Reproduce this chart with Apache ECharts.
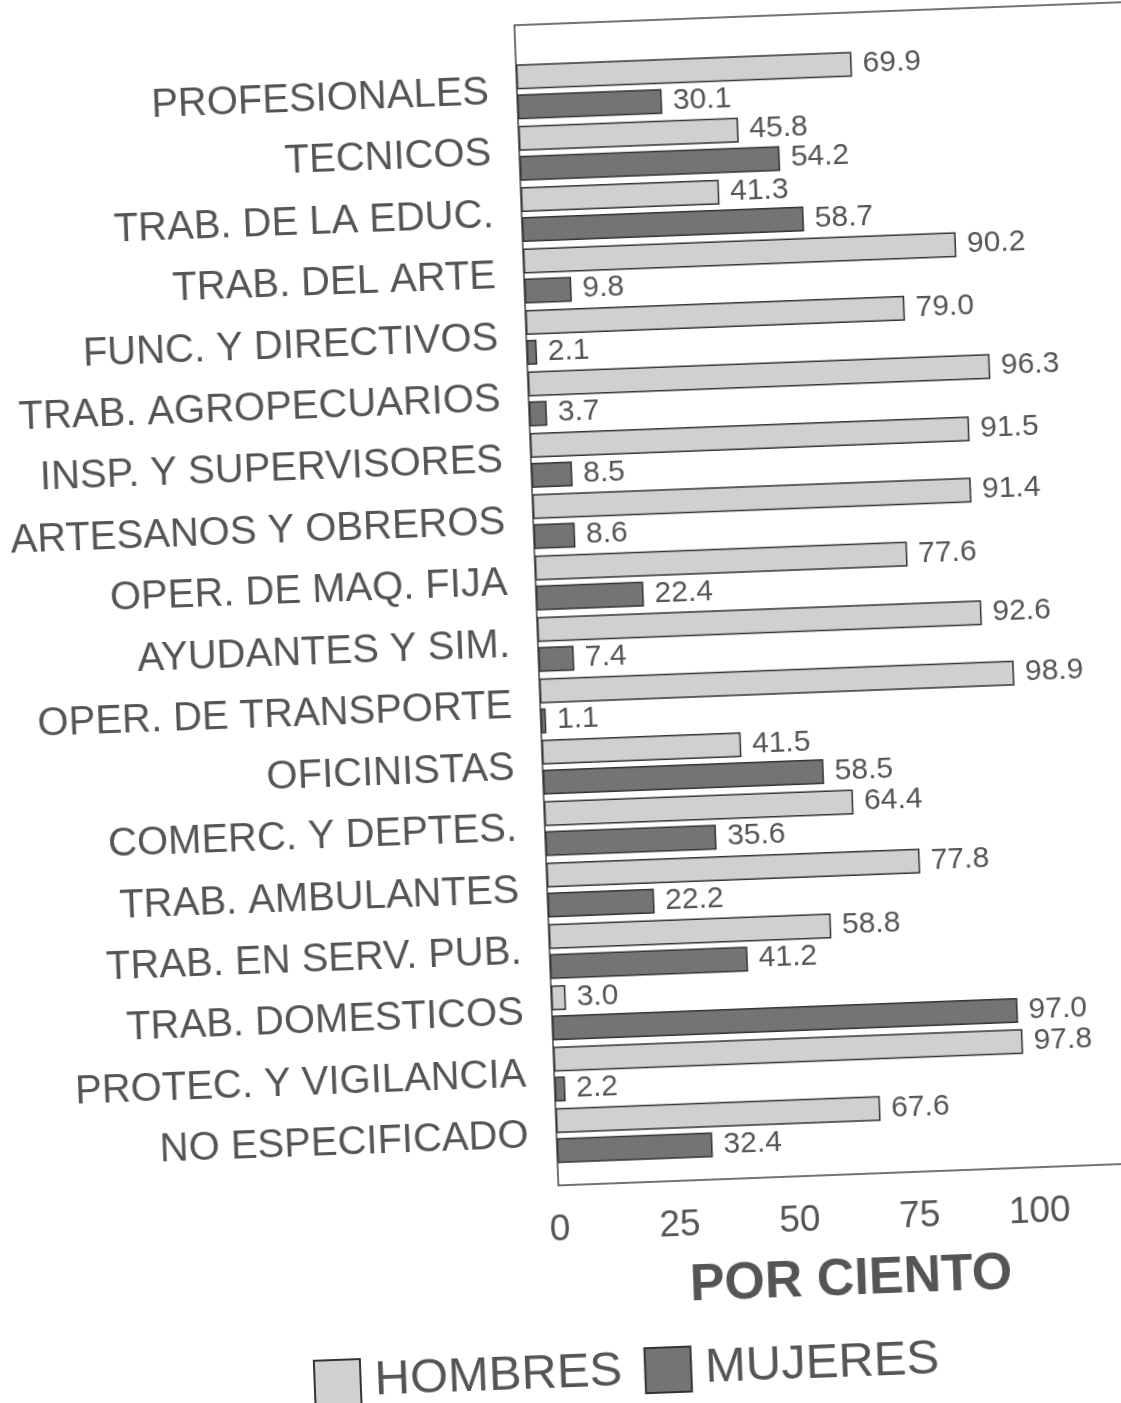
<!DOCTYPE html>
<html>
<head>
<meta charset="utf-8">
<script src="https://cdn.jsdelivr.net/npm/echarts@6/dist/echarts.min.js"></script>
<style>
  html, body { margin: 0; padding: 0; background: #fff; overflow: hidden; width: 1121px; height: 1403px; }
  /* el original es un escaneo ligeramente girado */
  #main { width: 1300px; height: 1403px; transform: rotate(-2.17deg); transform-origin: 560px 700px; }
</style>
</head>
<body>
<div id="main"></div>
<script>
// ocupaciones
var categorias = [
  "PROFESIONALES", "TECNICOS", "TRAB. DE LA EDUC.", "TRAB. DEL ARTE",
  "FUNC. Y DIRECTIVOS", "TRAB. AGROPECUARIOS", "INSP. Y SUPERVISORES",
  "ARTESANOS Y OBREROS", "OPER. DE MAQ. FIJA", "AYUDANTES Y SIM.",
  "OPER. DE TRANSPORTE", "OFICINISTAS", "COMERC. Y DEPTES.",
  "TRAB. AMBULANTES", "TRAB. EN SERV. PUB.", "TRAB. DOMESTICOS",
  "PROTEC. Y VIGILANCIA", "NO ESPECIFICADO"
];
var hombres = [69.9, 45.8, 41.3, 90.2, 79.0, 96.3, 91.5, 91.4, 77.6, 92.6, 98.9, 41.5, 64.4, 77.8, 58.8, 3.0, 97.8, 67.6];
var mujeres = [30.1, 54.2, 58.7, 9.8, 2.1, 3.7, 8.5, 8.6, 22.4, 7.4, 1.1, 58.5, 35.6, 22.2, 41.2, 97.0, 2.2, 32.4];
var ticks = [0, 25, 50, 75, 100];

var myChart = echarts.init(document.getElementById("main"));
var fuente = "'Liberation Sans', Arial, sans-serif";
var gris = "#555";

var etiqueta = {
  show: true,
  position: "right",
  distance: 11,
  fontFamily: fuente,
  fontSize: 30,
  color: gris,
  formatter: function (p) { return p.value.toFixed(1); }
};

myChart.setOption({
  animation: false,
  legend: {
    left: 283,
    top: 1344,
    icon: "rect",
    itemWidth: 46,
    itemHeight: 45,
    itemGap: 22,
    textStyle: { fontFamily: fuente, fontSize: 49, color: gris, padding: [4, 0, 0, 9] },
    data: ["HOMBRES", "MUJERES"]
  },
  grid: [
    { left: 540, top: 60, width: 720, height: 1106 },
    // marco del area de trazado
    { left: 540, top: 24, width: 720, height: 1161, show: true, borderColor: "#444", borderWidth: 1.5, backgroundColor: "transparent" }
  ],
  xAxis: [
    {
      type: "value",
      gridIndex: 0,
      min: 0,
      max: 150,
      interval: 25,
      offset: 19,
      name: "POR CIENTO",
      nameLocation: "middle",
      nameGap: 80,
      nameTextStyle: { fontFamily: fuente, fontSize: 52, fontWeight: "bold", color: gris, padding: [0, 142, 0, 0] },
      axisLine: { show: false },
      axisTick: { show: false },
      splitLine: { show: false },
      axisLabel: {
        margin: 26,
        fontFamily: fuente,
        fontSize: 37,
        color: gris,
        formatter: function (v) { return ticks.indexOf(v) >= 0 ? String(v) : ""; }
      }
    },
    { type: "value", gridIndex: 1, min: 0, max: 150, show: false }
  ],
  yAxis: [
    {
      type: "category",
      gridIndex: 0,
      inverse: true,
      data: categorias,
      axisLine: { show: false },
      axisTick: { show: false },
      axisLabel: { margin: 28, fontFamily: fuente, fontSize: 40, color: gris }
    },
    { type: "category", gridIndex: 1, show: false, data: [""] }
  ],
  series: [
    {
      name: "HOMBRES",
      type: "bar",
      xAxisIndex: 0,
      yAxisIndex: 0,
      data: hombres,
      barWidth: 25,
      barGap: "20%",
      itemStyle: { color: "#d0d0d0", borderColor: "#333", borderWidth: 1.5 },
      label: etiqueta
    },
    {
      name: "MUJERES",
      type: "bar",
      xAxisIndex: 0,
      yAxisIndex: 0,
      data: mujeres,
      barWidth: 25,
      barGap: "20%",
      itemStyle: { color: "#747474", borderColor: "#333", borderWidth: 1.5 },
      label: etiqueta
    }
  ]
});
</script>
</body>
</html>
